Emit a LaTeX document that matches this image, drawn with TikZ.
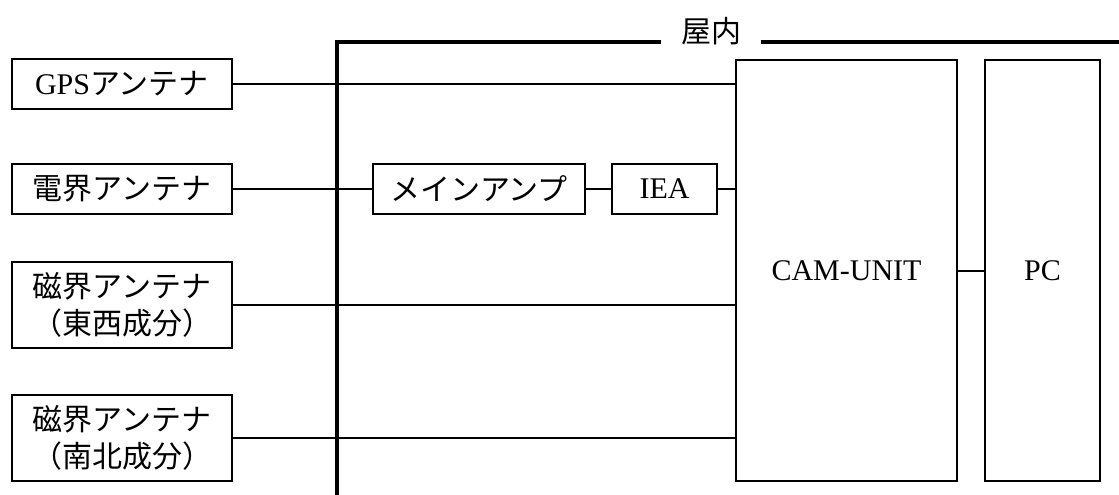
\documentclass[tikz,border=0pt]{standalone}
\usepackage{fontspec}
\setmainfont{Liberation Serif}
\newfontfamily\cjk{Noto Sans CJK JP}
\begin{document}
\begin{tikzpicture}[x=0.75pt,y=-0.75pt,
  box/.style={draw,line width=1.8pt,inner sep=0pt,align=center,
    font=\fontsize{22.5}{27.75}\selectfont},
  wire/.style={line width=1.5pt},
  wall/.style={line width=3pt}]
\useasboundingbox (0,0) rectangle (1119,495);
% antennas
\node[box,minimum width=165pt,minimum height=37.5pt] (gps) at (122,84) {GPS{\cjk アンテナ}};
\node[box,minimum width=165pt,minimum height=37.5pt] (ef) at (122,189) {\cjk 電界アンテナ};
\node[box,minimum width=165pt,minimum height=64.5pt] (mew) at (122,305) {\cjk 磁界アンテナ\\\cjk （東西成分）};
\node[box,minimum width=165pt,minimum height=64.5pt] (mns) at (122,438) {\cjk 磁界アンテナ\\\cjk （南北成分）};
% indoor units
\node[box,minimum width=159pt,minimum height=37.5pt] (amp) at (479,189) {\cjk メインアンプ};
\node[box,minimum width=78.75pt,minimum height=37.5pt] (iea) at (664.5,189) {IEA};
\node[box,minimum width=165.75pt,minimum height=315.75pt] (cam) at (846.5,270.5) {CAM-UNIT};
\node[box,minimum width=86.25pt,minimum height=315.75pt] (pc) at (1042.5,270.5) {PC};
% indoor boundary
\node[inner xsep=14.5pt,inner ysep=0pt,font=\fontsize{22.5}{27}\selectfont] (indoor) at (711,31) {\cjk 屋内};
\coordinate (bl) at (337,495);
\coordinate (tl) at (337,42);
\coordinate (tr) at (1119,42);
\draw[wall] (bl) -- (tl) -- (indoor.west |- tl);
\draw[wall] (indoor.east |- tl) -- (tr);
% connectors
\draw[wire] (gps.east) -- (gps.east -| cam.west);
\draw[wire] (ef.east) -- (amp.west);
\draw[wire] (amp.east) -- (iea.west);
\draw[wire] (iea.east) -- (iea.east -| cam.west);
\draw[wire] (mew.east) -- (mew.east -| cam.west);
\draw[wire] (mns.east) -- (mns.east -| cam.west);
\draw[wire] (cam.east) -- (pc.west);
\end{tikzpicture}
\end{document}
